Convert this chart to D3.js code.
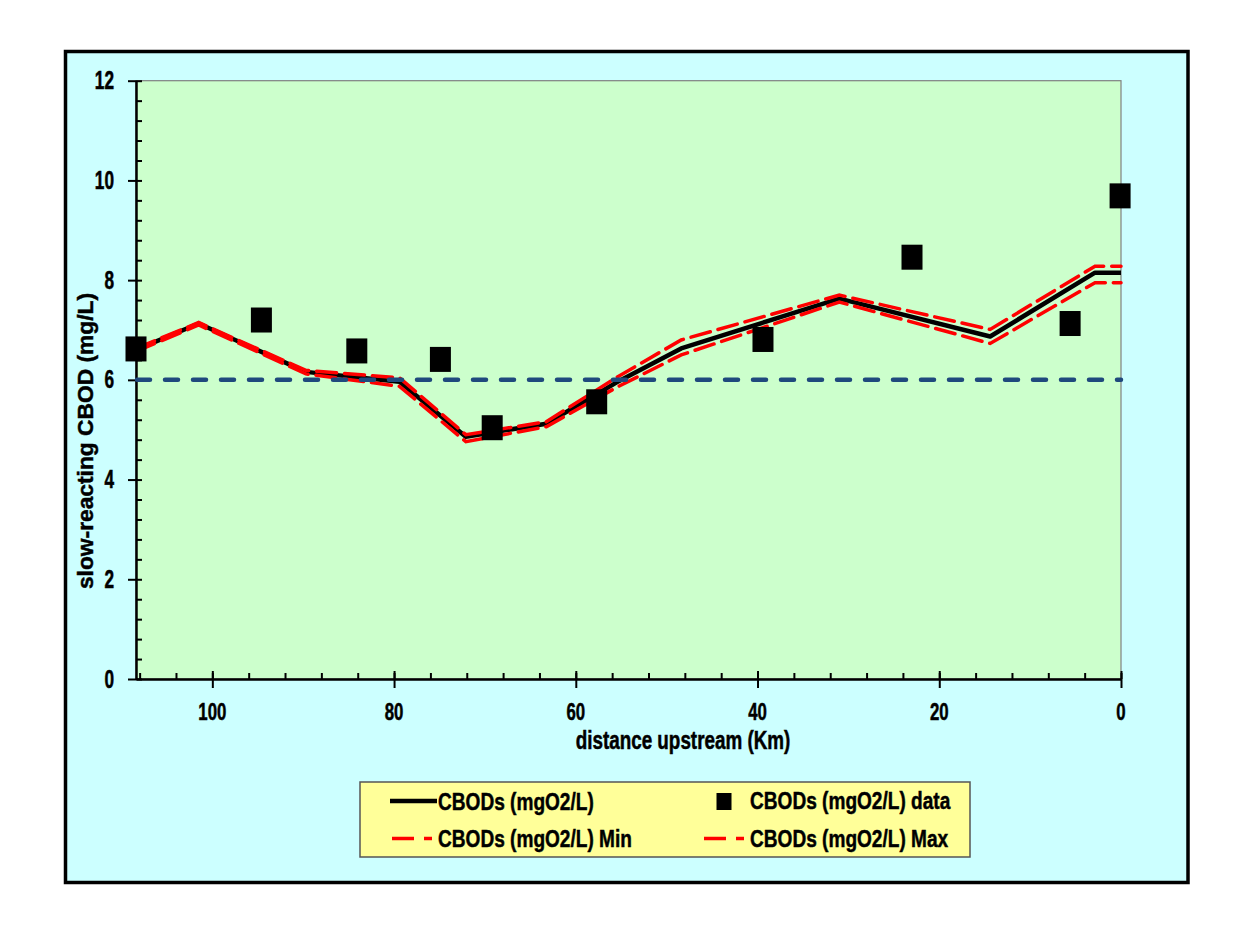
<!DOCTYPE html>
<html>
<head>
<meta charset="utf-8">
<script src="https://cdn.jsdelivr.net/npm/d3@7"></script>
<style>
  body { margin: 0; background: #ffffff; }
  text { font-family: "Liberation Sans", Arial, sans-serif; font-weight: bold; fill: #000; stroke: #000; stroke-width: 0.45px; }
</style>
</head>
<body>
<div id="chart"></div>
<script>
// model output along the river (km upstream)
const modelKm  = [108.4, 101.5, 89.7, 79.4, 72.1, 63.25, 55.5, 48.4, 31, 14.4, 2.86, 0];
const cbod     = [6.6, 7.13, 6.16, 5.96, 4.86, 5.12, 5.95, 6.63, 7.63, 6.87, 8.15, 8.15];
const cbodMin  = [6.57, 7.1, 6.12, 5.87, 4.76, 5.06, 5.85, 6.5, 7.56, 6.73, 7.95, 7.95];
const cbodMax  = [6.63, 7.15, 6.19, 6.04, 4.9, 5.16, 6.05, 6.8, 7.7, 7.01, 8.28, 8.28];

// measured data
const obsKm    = [108.4, 94.6, 84.1, 74.9, 69.2, 57.7, 39.4, 23.0, 5.6, 0.1];
const obsCbod  = [6.62, 7.2, 6.58, 6.41, 5.04, 5.56, 6.81, 8.46, 7.13, 9.69];

const standard = 6;
const yTicks = [0, 2, 4, 6, 8, 10, 12];
const xTicks = [100, 80, 60, 40, 20, 0];

const legendItems = ["CBODs (mgO2/L)", "CBODs (mgO2/L) data", "CBODs (mgO2/L) Min", "CBODs (mgO2/L) Max"];

const W = 1248, H = 940;
const plot = {left: 136, right: 1121, top: 80.7, bottom: 679};

const svg = d3.select("#chart").append("svg")
  .attr("width", W).attr("height", H);

// outer chart area
svg.append("rect")
  .attr("x", 65.5).attr("y", 51.5)
  .attr("width", 1188 - 65.5).attr("height", 882.5 - 51.5)
  .attr("fill", "#ccffff").attr("stroke", "#000").attr("stroke-width", 3.5);

// plot area
svg.append("rect")
  .attr("x", plot.left).attr("y", plot.top)
  .attr("width", plot.right - plot.left).attr("height", plot.bottom - plot.top)
  .attr("fill", "#ccffcc").attr("stroke", "#808080").attr("stroke-width", 1.2);

const x = d3.scaleLinear().domain([108.4, 0]).range([plot.left, plot.right]);
const y = d3.scaleLinear().domain([0, 12]).range([plot.bottom, plot.top]);

// text with a stretch, the original is a squeezed picture
function label(parent, px, py, str, size, sx, sy, anchor, rot) {
  const g = parent.append("g")
    .attr("transform", `translate(${px},${py}) rotate(${rot || 0}) scale(${sx},${sy})`);
  g.append("text")
    .attr("text-anchor", anchor || "start")
    .style("font-size", size + "px")
    .text(str);
  return g;
}

// y axis: major ticks cross the axis, minor ticks inside
const yMinor = d3.range(0, 12.01, 0.4);
svg.append("g")
  .attr("transform", `translate(${plot.left},0)`)
  .call(d3.axisRight(y).tickValues(yMinor).tickSize(6).tickSizeOuter(0).tickFormat(""))
  .call(g => g.selectAll("line").attr("stroke", "#000").attr("stroke-width", 2));
svg.append("g")
  .attr("transform", `translate(${plot.left},0)`)
  .call(d3.axisLeft(y).tickValues(yTicks).tickSize(8).tickSizeOuter(0).tickFormat(""))
  .call(g => g.selectAll("line").attr("stroke", "#000").attr("stroke-width", 2))
  .call(g => g.select(".domain").attr("stroke", "#000").attr("stroke-width", 2.5));

yTicks.forEach(t => label(svg, 114, y(t) + 8.5, t, 20.5, 0.84, 1.22, "end"));

// x axis
const xMinor = d3.range(0, 108.01, 4);
svg.append("g")
  .attr("transform", `translate(0,${plot.bottom})`)
  .call(d3.axisTop(x).tickValues(xMinor).tickSize(6).tickSizeOuter(0).tickFormat(""))
  .call(g => g.selectAll("line").attr("stroke", "#000").attr("stroke-width", 2));
svg.append("g")
  .attr("transform", `translate(0,${plot.bottom})`)
  .call(d3.axisBottom(x).tickValues(xTicks).tickSize(9).tickSizeOuter(0).tickFormat(""))
  .call(g => g.selectAll("line").attr("stroke", "#000").attr("stroke-width", 2))
  .call(g => g.select(".domain").attr("stroke", "#000").attr("stroke-width", 2.5));
svg.append("g")
  .attr("transform", `translate(0,${plot.bottom})`)
  .call(d3.axisTop(x).tickValues(xTicks).tickSize(8).tickSizeOuter(0).tickFormat(""))
  .call(g => g.selectAll("line").attr("stroke", "#000").attr("stroke-width", 2))
  .call(g => g.select(".domain").remove());

xTicks.forEach(t => label(svg, x(t), 720, t, 20.5, 0.82, 1.18, "middle"));

// axis titles
label(svg, 683, 749, "distance upstream (Km)", 23, 0.82, 1.1, "middle");
label(svg, 93, 441, "slow-reacting CBOD (mg/L)", 21.5, 1.06, 1, "middle", -90);

// lines
const line = d3.line().x(d => x(d[0])).y(d => y(d[1]));
const plotG = svg.append("g");

plotG.append("path")
  .datum(modelKm.map((k, i) => [k, cbod[i]]))
  .attr("d", line).attr("fill", "none")
  .attr("stroke", "#000").attr("stroke-width", 4.5).attr("stroke-linejoin", "round");

[cbodMin, cbodMax].forEach(vals => {
  plotG.append("path")
    .datum(modelKm.map((k, i) => [k, vals[i]]))
    .attr("d", line).attr("fill", "none")
    .attr("stroke", "#ff0000").attr("stroke-width", 3.5)
    .attr("stroke-dasharray", "20,8").attr("stroke-linecap", "round");
});

// standard line
plotG.append("line")
  .attr("x1", plot.left).attr("x2", plot.right)
  .attr("y1", y(standard)).attr("y2", y(standard))
  .attr("stroke", "#1f497d").attr("stroke-width", 4.5)
  .attr("stroke-dasharray", "13,15").attr("stroke-linecap", "round")
  .attr("stroke-dashoffset", -1);

// observed squares
plotG.selectAll("rect.obs")
  .data(obsKm.map((k, i) => [k, obsCbod[i]]))
  .join("rect")
  .attr("class", "obs")
  .attr("x", d => x(d[0]) - 10.5).attr("y", d => y(d[1]) - 12.5)
  .attr("width", 21).attr("height", 25)
  .attr("fill", "#000");

// legend
const leg = svg.append("g");
leg.append("rect")
  .attr("x", 360).attr("y", 782).attr("width", 610).attr("height", 75)
  .attr("fill", "#ffff99").attr("stroke", "#555").attr("stroke-width", 1.5);

const row1 = 801, row2 = 838.5;
leg.append("line").attr("x1", 390).attr("x2", 437).attr("y1", row1).attr("y2", row1)
  .attr("stroke", "#000").attr("stroke-width", 4.5);
label(leg, 438, 809.5, legendItems[0], 23, 0.83, 1.05, "start");

leg.append("rect").attr("x", 716.5).attr("y", 793).attr("width", 15).attr("height", 17).attr("fill", "#000");
label(leg, 750, 809, legendItems[1], 23, 0.83, 1.05, "start");

[[390, 437, 438, legendItems[2]], [702, 747, 750, legendItems[3]]].forEach(d => {
  leg.append("line").attr("x1", d[0] + 2).attr("x2", d[1]).attr("y1", row2).attr("y2", row2)
    .attr("stroke", "#ff0000").attr("stroke-width", 3.5)
    .attr("stroke-dasharray", "22,10,8,100");
  label(leg, d[2], 846.5, d[3], 23, 0.83, 1.05, "start");
});
</script>
</body>
</html>
